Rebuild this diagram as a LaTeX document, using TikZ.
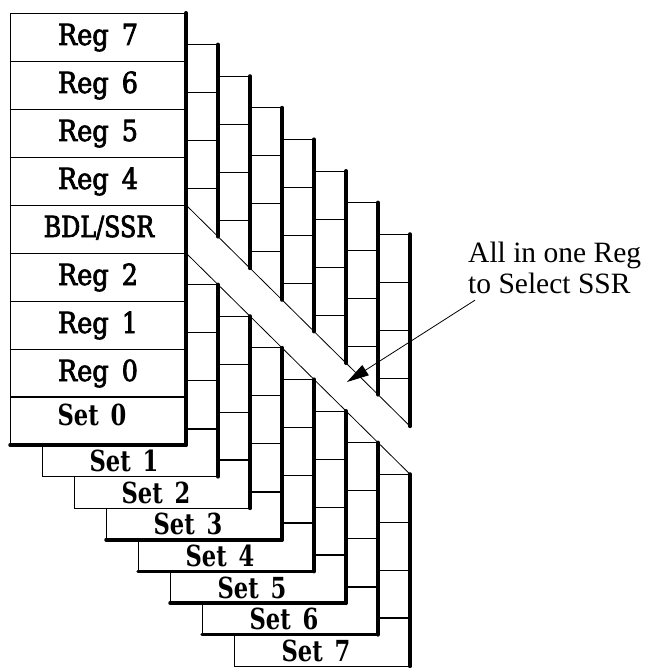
\documentclass[tikz,border=0pt]{standalone}
\usepackage{fontspec}
\usepackage{tikz}
\usetikzlibrary{arrows.meta}
\setmainfont{Liberation Serif}
\newfontfamily\regfont{DejaVu Serif}[FakeBold=2.5,FakeStretch=0.88]
\newfontfamily\regnarrowfont{DejaVu Serif}[FakeBold=2.5,FakeStretch=0.82]
\newfontfamily\setnamefont{DejaVu Serif}[FakeStretch=0.78]

\begin{document}
\begin{tikzpicture}[x=1pt,y=-1pt,
    rowline/.style={line width=0.8pt},
    setline/.style={line width=2pt},
    rimline/.style={line width=4pt,line cap=round},
    footline/.style={line width=3.5pt,line cap=round},
    reglabel/.style={anchor=base,inner sep=0pt,font=\fontsize{29}{29}\regfont},
    setlabel/.style={anchor=base,inner sep=0pt,font=\fontsize{29}{29}\setnamefont\bfseries}]
	\useasboundingbox (0,0) rectangle (653,668);
	% the sets behind, only their right and bottom strips show
	\foreach \k/\bst in {7/rowline,6/footline,5/footline,4/footline,3/footline,2/rowline,1/rowline}{
		\pgfmathsetmacro{\xl}{10+32*\k}
		\pgfmathsetmacro{\xr}{186+32*\k}
		\pgfmathsetmacro{\xp}{\xr-32}
		\pgfmathsetmacro{\yt}{13+31.6*\k}
		\pgfmathsetmacro{\yb}{445+31.6*\k}
		% rows of the strip
		\foreach \j in {0,1,2,3,5,6,7}
			\draw[rowline] (\xp,\yt+48*\j) -- (\xr,\yt+48*\j);
		\draw[setline] (\xp,\yt+384) -- (\xr,\yt+384);
		% left and bottom edges
		\draw[rowline] (\xl,\yb-31.6) -- (\xl,\yb);
		\draw[\bst] (\xl,\yb) -- (\xr,\yb);
		% right edge, cut by the band
		\draw[rimline] (\xr,\yt) -- (\xr,\yt+192);
		\draw[rimline] (\xr,\yt+240) -- (\xr,\yb);
		\node[setlabel] (set\k) at (\xl+82,\yb-5) {Set\hspace{4pt} \k};
	}
	% the front set
	\draw[rowline] (186,13) -- (10,13) -- (10,445);
	\foreach \j in {1,...,7}
		\draw[rowline] (10,13+48*\j) -- (186,13+48*\j);
	\draw[setline] (10,397) -- (186,397);
	\draw[footline] (10,445) -- (186,445);
	\draw[rimline] (186,13) -- (186,445);
	\foreach \n/\j in {7/0,6/1,5/2,4/3,2/5,1/6,0/7}
		\node[reglabel] (reg\n) at (98,45+48*\j) {Reg\hspace{5pt} \n};
	\node[reglabel,font=\fontsize{29}{29}\regnarrowfont] (bdl) at (99,237) {BDL/SSR};
	\node[setlabel] (set0) at (92,425) {Set\hspace{4pt} 0};
	% the band through all sets
	\draw[rowline] (186,205) -- (410,426.2);
	\draw[rowline] (186,253) -- (410,474.2);
	% the note
	\node[anchor=north west,inner sep=0pt,align=left,font=\fontsize{29.5}{31}\selectfont] (note) at (468,242) {All in one Reg\\to Select SSR};
	\coordinate (bandpt) at (347,382);
	\draw[line width=0.8pt,-{Triangle[length=22pt,width=12pt]}] ([xshift=7pt,yshift=-6pt]note.south west) -- (bandpt);
\end{tikzpicture}
\end{document}
